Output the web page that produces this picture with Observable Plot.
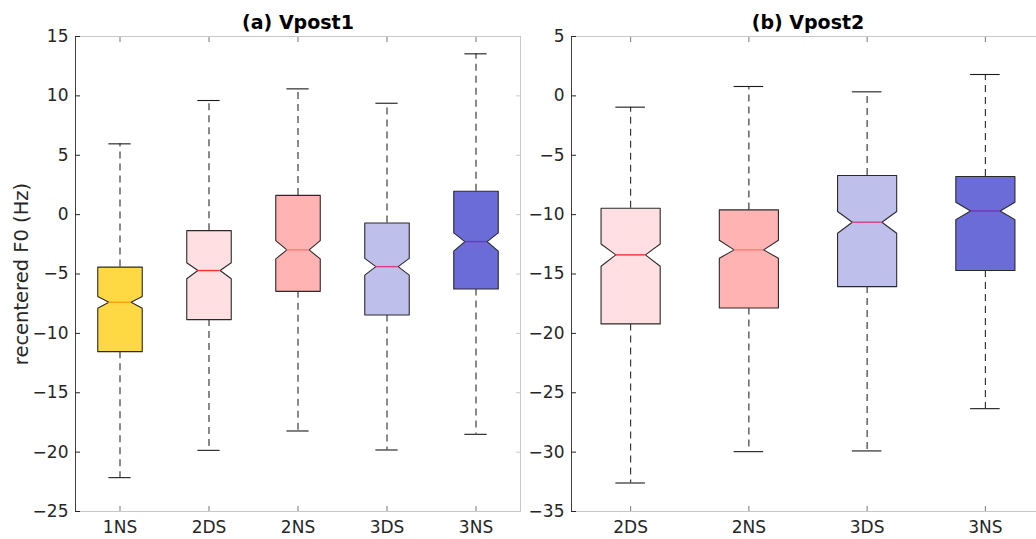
<!DOCTYPE html>
<html>
<head>
<meta charset="utf-8">
<script src="https://cdn.jsdelivr.net/npm/d3@7"></script>
<script src="https://cdn.jsdelivr.net/npm/@observablehq/plot@0.6"></script>
<style>
  html, body { margin: 0; padding: 0; background: #fff; overflow: hidden; }
  #wrap { position: relative; width: 1036px; height: 539px; overflow: hidden; }
  #wrap > div, #wrap > svg { position: absolute; top: 0; }
</style>
</head>
<body>
<div id="wrap"></div>
<script>
// ---------- data: panel (a) Vpost1 ----------
const cats1     = ["1NS", "2DS", "2NS", "3DS", "3NS"];
const whiskHi1  = [5.96, 9.61, 10.59, 9.38, 13.54];
const q3_1      = [-4.42, -1.35, 1.62, -0.70, 1.97];
const notchHi1  = [-6.90, -4.05, -2.19, -3.68, -1.54];
const median1   = [-7.38, -4.71, -2.97, -4.38, -2.27];
const notchLo1  = [-7.89, -5.40, -3.73, -5.10, -3.08];
const q1_1      = [-11.54, -8.84, -6.46, -8.45, -6.26];
const whiskLo1  = [-22.15, -19.85, -18.22, -19.82, -18.50];
const yTicks1   = [-25, -20, -15, -10, -5, 0, 5, 10, 15];

// ---------- data: panel (b) Vpost2 ----------
const cats2     = ["2DS", "2NS", "3DS", "3NS"];
const whiskHi2  = [-0.95, 0.79, 0.34, 1.80];
const q3_2      = [-9.46, -9.60, -6.71, -6.79];
const notchHi2  = [-12.47, -12.16, -9.74, -8.96];
const median2   = [-13.39, -12.97, -10.64, -9.69];
const notchLo2  = [-14.35, -13.68, -11.57, -10.42];
const q1_2      = [-19.20, -17.86, -16.06, -14.71];
const whiskLo2  = [-32.60, -29.96, -29.90, -26.34];
const yTicks2   = [-35, -30, -25, -20, -15, -10, -5, 0, 5];

const titles = ["(a) Vpost1", "(b) Vpost2"];
const yLabel = "recentered F0 (Hz)";

// ---------- styles ----------
const boxFill = {"1NS": "#FFD944", "2DS": "#FFDFE1", "2NS": "#FFB3B3", "3DS": "#BFBFEC", "3NS": "#6C6CD9"};
const medColor = {"1NS": "#FF9E00", "2DS": "#FF3030", "2NS": "#FF7A7A", "3DS": "#D6407E", "3NS": "#7A2FB8"};
const HW = 0.25, NW = 0.125, CW = 0.125;

function buildTable(cats, wHi, q3, nHi, med, nLo, q1, wLo) {
  return cats.map((c, k) => ({cat: c, i: k + 1, wHi: wHi[k], q3: q3[k], nHi: nHi[k], med: med[k], nLo: nLo[k], q1: q1[k], wLo: wLo[k]}));
}
function outline(rows) {
  const pts = [];
  for (const r of rows) {
    const i = r.i;
    [[i - HW, r.q3], [i + HW, r.q3], [i + HW, r.nHi], [i + NW, r.med], [i + HW, r.nLo],
     [i + HW, r.q1], [i - HW, r.q1], [i - HW, r.nLo], [i - NW, r.med], [i - HW, r.nHi]]
      .forEach(([x, y]) => pts.push({cat: r.cat, x, y}));
  }
  return pts;
}

function panel({rows, cats, yTicks, title, width, marginLeft, withLabel}) {
  const n = cats.length;
  const marks = [
    Plot.frame({stroke: "#c8c8c8"}),
    Plot.frame({anchor: "left", stroke: "#404040"}),
    // whiskers (dashed)
    Plot.ruleX(rows, {x: "i", y1: "q3", y2: "wHi", stroke: "#2a2a2a", strokeWidth: 1.1, strokeDasharray: "7,5"}),
    Plot.ruleX(rows, {x: "i", y1: "q1", y2: "wLo", stroke: "#2a2a2a", strokeWidth: 1.1, strokeDasharray: "7,5"}),
    // caps
    Plot.ruleY(rows, {y: "wHi", x1: d => d.i - CW, x2: d => d.i + CW, stroke: "#1a1a1a", strokeWidth: 1.1}),
    Plot.ruleY(rows, {y: "wLo", x1: d => d.i - CW, x2: d => d.i + CW, stroke: "#1a1a1a", strokeWidth: 1.1}),
    // notched boxes
    Plot.line(outline(rows), {x: "x", y: "y", z: "cat", fill: d => boxFill[d.cat], stroke: "#2a2a2a", strokeWidth: 1.1, curve: "linear-closed"}),
    // medians
    Plot.ruleY(rows, {y: "med", x1: d => d.i - NW, x2: d => d.i + NW, stroke: d => medColor[d.cat], strokeWidth: 1.4}),
    // axes
    Plot.axisY(yTicks, {anchor: "left", tickSize: -5, tickPadding: 12, fontSize: 17, label: null, stroke: "#262626", fill: "#262626"}),
    Plot.axisY(yTicks, {anchor: "right", tickSize: -5, tickFormat: () => "", label: null, stroke: "#c8c8c8"}),
    Plot.axisX(d3.range(1, n + 1), {anchor: "bottom", tickSize: -5, tickPadding: 14, tickFormat: d => cats[d - 1], fontSize: 17, label: null, stroke: "#777", fill: "#262626"}),
    Plot.axisX(d3.range(1, n + 1), {anchor: "top", tickSize: -5, tickFormat: () => "", label: null, stroke: "#777"}),
    Plot.text([title], {frameAnchor: "top", dy: -8, lineAnchor: "bottom", fontWeight: "bold", fontSize: 19, fill: "#000"})
  ];
  if (withLabel) {
    marks.push(Plot.text([yLabel], {frameAnchor: "left", rotate: -90, dx: -54, textAnchor: "middle", lineAnchor: "middle", fontSize: 19.5, fill: "#262626"}));
  }
  return Plot.plot({
    width, height: 539,
    marginLeft, marginRight: 1, marginTop: 36, marginBottom: 28,
    x: {type: "linear", domain: [0.5, n + 0.5]},
    y: {domain: [yTicks[0], yTicks[yTicks.length - 1]]},
    style: {fontFamily: "DejaVu Sans, sans-serif", fontSize: "17px", color: "#262626", background: "transparent", overflow: "visible"},
    marks
  });
}

const rows1 = buildTable(cats1, whiskHi1, q3_1, notchHi1, median1, notchLo1, q1_1, whiskLo1);
const rows2 = buildTable(cats2, whiskHi2, q3_2, notchHi2, median2, notchLo2, q1_2, whiskLo2);

const p1 = panel({rows: rows1, cats: cats1, yTicks: yTicks1, title: titles[0], width: 521, marginLeft: 75, withLabel: true});
const p2 = panel({rows: rows2, cats: cats2, yTicks: yTicks2, title: titles[1], width: 525, marginLeft: 51, withLabel: false});
p1.style.left = "0px";
p2.style.left = "520px";
const wrap = document.getElementById("wrap");
wrap.append(p1, p2);
</script>
</body>
</html>
